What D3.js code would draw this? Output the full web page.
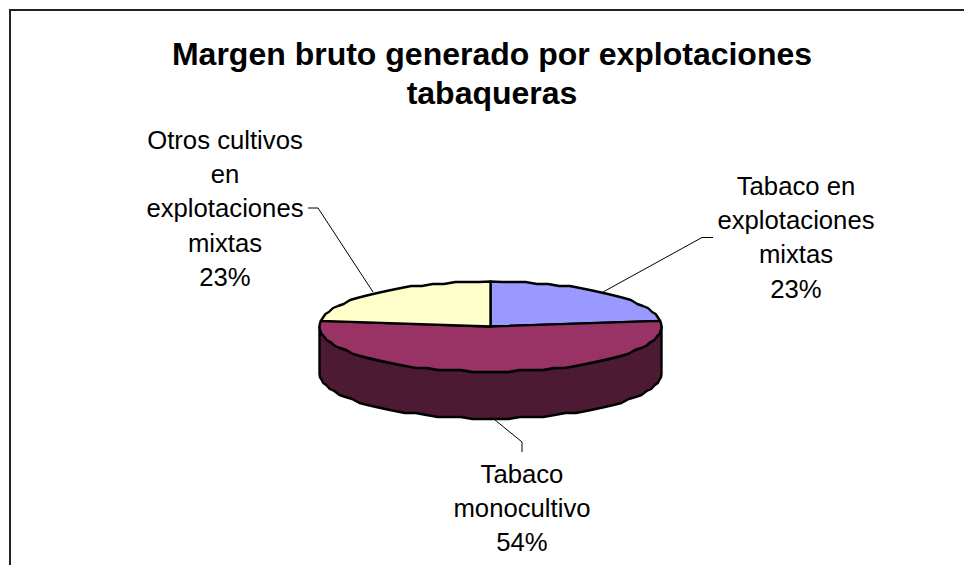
<!DOCTYPE html>
<html><head><meta charset="utf-8">
<script src="https://cdn.jsdelivr.net/npm/d3@7/dist/d3.min.js"></script>
<style>html,body{margin:0;background:#fff}svg{display:block}text{font-family:"Liberation Sans",Arial,sans-serif;fill:#000}</style>
</head><body><svg width="964" height="565"></svg>
<script>
const categories = ["Tabaco en explotaciones mixtas","Tabaco monocultivo","Otros cultivos en explotaciones mixtas"];
const values = [23,54,23];
const colors = ["#9999ff","#993366","#ffffcc"];
const sideColor = "#4d1a33";
const titleLines = ["Margen bruto generado por explotaciones","tabaqueras"];
const labelLines = [
  ["Tabaco en","explotaciones","mixtas","23%"],
  ["Tabaco","monocultivo","54%"],
  ["Otros cultivos","en","explotaciones","mixtas","23%"]
];
const svg = d3.select("svg");
svg.append("path").attr("d","M10,565V10H964").attr("fill","none").attr("stroke","#222").attr("stroke-width",2);
const cx=490.5, cy=326.5, rx=171, ry=45, depth=47;
const x=d3.scaleLinear().domain([-1,1]).range([cx-rx,cx+rx]);
const y=d3.scaleLinear().domain([-1,1]).range([cy-ry,cy+ry]);
const step=Math.PI/45, snap=v=>Math.round(v/2)*2;
const pts=(a0,a1,dy=0)=>{const n=Math.max(1,Math.round((a1-a0)/step));
  return d3.range(n+1).map(i=>{const a=a0+(a1-a0)*i/n;
    const e=(i===0||i===n);
    return [x(Math.sin(a)),(e?y(-Math.cos(a)):snap(y(-Math.cos(a))))+dy];});};
const pie=d3.pie().sort(null)(values);
const line=d3.line();
const front=pts(Math.PI/2,Math.PI*3/2);
const wall=front.concat(pts(Math.PI/2,Math.PI*3/2,depth).reverse());
svg.append("path").attr("d",line(wall)+"Z").attr("fill",sideColor).attr("stroke","#000").attr("stroke-width",2.4).attr("stroke-linejoin","round");
svg.selectAll("path.slice").data(pie).join("path").attr("class","slice")
  .attr("d",d=>line([[cx,cy],...pts(d.startAngle,d.endAngle)])+"Z")
  .attr("fill",(d,i)=>colors[i]).attr("stroke","#000").attr("stroke-width",2.4).attr("stroke-linejoin","round");
const leaders=[[[713,237.5],[702,237.5],[603,292]],[[522,452],[522,442],[495,420]],[[308,208],[318,208],[373,292]]];
leaders.forEach(l=>svg.append("path").attr("d",line(l)).attr("fill","none").attr("stroke","#000").attr("stroke-width",1));
svg.append("g").selectAll("text").data(titleLines).join("text")
  .attr("x",492).attr("y",(d,i)=>65+i*39).attr("text-anchor","middle")
  .style("font-size","32px").style("font-weight","bold").text(d=>d);
const anchors=[[796,195],[522,483],[225,149]];
labelLines.forEach((ls,k)=>svg.append("g").selectAll("text").data(ls).join("text")
  .attr("x",anchors[k][0]).attr("y",(d,i)=>anchors[k][1]+i*34.2).attr("text-anchor","middle")
  .style("font-size","25.7px").text(d=>d));
</script></body></html>
